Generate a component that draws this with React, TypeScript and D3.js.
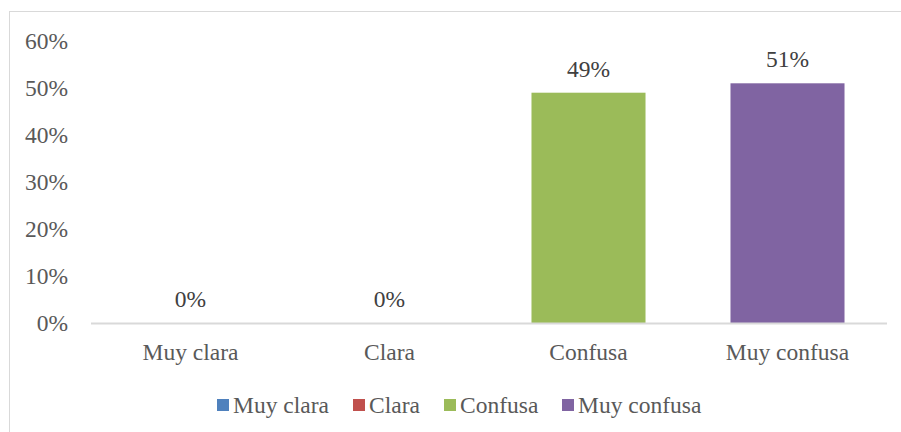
import React from "react";
import * as d3 from "d3";

const categories = ["Muy clara", "Clara", "Confusa", "Muy confusa"];
const values = [0, 0, 49, 51];
const colors = ["#4f81bd", "#c0504d", "#9bbb59", "#8064a2"];
const yTicks = [0, 10, 20, 30, 40, 50, 60];

const W = 901;
const H = 432;
const FONT = "Liberation Serif, Times New Roman, DejaVu Serif, serif";
const FS = 23.5;

export default function App() {
  const plotLeft = 91;
  const plotRight = 887;
  const yBase = 323;
  const yTop = 41;
  const x = d3.scaleBand<string>().domain(categories).range([plotLeft, plotRight]).paddingInner(0.427).paddingOuter(0.2135);
  const y = d3.scaleLinear().domain([0, 60]).range([yBase, yTop]);

  const legendX = [217, 353, 444, 562];
  const txt = { fontFamily: FONT, fontSize: FS };

  return (
    <svg width={W} height={H} style={{ position: "absolute", left: 0, top: 0, background: "#fff" }}>
      <rect x={9.5} y={11.5} width={895} height={440} fill="#fff" stroke="#d9d9d9" strokeWidth={1} />
      {yTicks.map((t) => (
        <text key={t} x={68} y={y(t)} dy="0.35em" textAnchor="end" style={txt} fill="#595959">
          {t}%
        </text>
      ))}
      {categories.map((c, i) => (
        <g key={c}>
          {values[i] > 0 && (
            <rect x={x(c)} y={y(values[i])} width={x.bandwidth()} height={yBase - y(values[i])} fill={colors[i]} />
          )}
          <text x={(x(c) as number) + x.bandwidth() / 2} y={y(values[i]) - 16} textAnchor="middle" style={txt} fill="#404040">
            {values[i]}%
          </text>
          <text x={(x(c) as number) + x.bandwidth() / 2} y={360} textAnchor="middle" style={txt} fill="#595959">
            {c}
          </text>
        </g>
      ))}
      <line x1={plotLeft} x2={plotRight} y1={yBase + 0.5} y2={yBase + 0.5} stroke="#d9d9d9" strokeWidth={2} />
      {categories.map((c, i) => (
        <g key={"lg" + c}>
          <rect x={legendX[i]} y={399} width={12} height={12} fill={colors[i]} />
          <text x={legendX[i] + 16} y={413} style={txt} fill="#595959">
            {c}
          </text>
        </g>
      ))}
    </svg>
  );
}
